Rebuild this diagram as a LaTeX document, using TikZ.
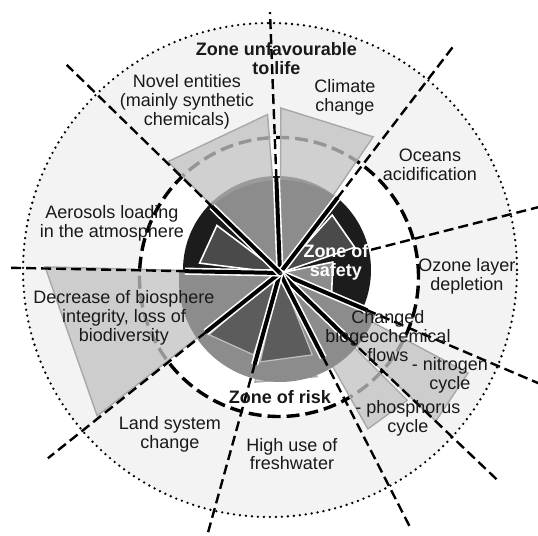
\documentclass[tikz,border=0pt]{standalone}
\usepackage{fontspec}
\setmainfont{Liberation Sans}
\usetikzlibrary{positioning}
\definecolor{outerbg}{HTML}{F3F3F3}
\definecolor{litegray}{HTML}{C2C2C2}
\definecolor{litedge}{HTML}{A8A8A8}
\definecolor{midgray}{HTML}{8C8C8C}
\definecolor{safecore}{HTML}{1C1C1C}
\definecolor{safegray}{HTML}{4A4A4A}
\definecolor{riskgray}{HTML}{5C5C5C}

\begin{document}
\begin{tikzpicture}[
  x=0.5pt, y=0.5pt,
  font=\fontsize{9}{9.4}\selectfont,
  lbl/.style={align=center, inner sep=0pt, text=black!90},
  zonelbl/.style={lbl, font=\fontsize{9}{9.4}\selectfont\bfseries},
  litewedge/.style={fill=litegray, fill opacity=0.77, draw=litedge, line width=0.7pt},
  safewedge/.style={fill=safegray, draw=white, line width=0.8pt},
  riskwedge/.style={fill=riskgray, draw=black!25, line width=0.6pt},
  sepline/.style={line width=2pt, black},
  raydash/.style={line width=1.2pt, dash pattern=on 5pt off 2.5pt}
]
\useasboundingbox (-280,-263) rectangle (258,273);
\clip (-280,-263) rectangle (258,273);

% zones
\fill[outerbg] (-10,3) circle (247);
\fill[white] (-1,-4) circle (139.5);
\draw[line width=1.7pt, dash pattern=on 6.5pt off 3pt] (-1,-4) circle (139.5);
\fill[safecore] (-3,3) circle (94);

% boundaries transgressed
\filldraw[litewedge] (0,0) -- (94.5:159) -- (135.2:158) -- cycle;
\filldraw[litewedge] (0,0) -- (55.6:165) -- (89.7:165) -- cycle;
\filldraw[litewedge] (0,0) -- (-28:213) -- (-43.6:215) -- cycle;
\filldraw[litewedge] (0,0) -- (-45:180) -- (-60.6:179) -- cycle;
\filldraw[litewedge] (0,0) -- (-102.9:112) -- (-70.4:110) -- cycle;
\filldraw[litewedge] (0,0) -- (178.5:235) -- (218:232) -- cycle;

% zone of risk part
\foreach \a/\b in {92.2/135.7, 52.6/92.2, -62.9/-23.1, -105.5/-62.9,
                   -141.4/-105.5, 178.9/218.6}
{
  \begin{scope}
    \clip (0,0) -- (\a:300) -- (\b:300) -- cycle;
    \fill[midgray] (0,-8) circle (101);
  \end{scope}
}
\filldraw[riskwedge] (0,0) -- (-102.5:91) -- (-68.5:88) -- cycle;
\filldraw[riskwedge] (0,0) -- (-139:94) -- (-108:86) -- cycle;

% inside the safe zone
\filldraw[safewedge] (0,0) -- (143:79) -- (173:81) -- cycle;
\filldraw[safewedge] (0,0) -- (19:79) -- (48:78) -- cycle;
\filldraw[safewedge, fill=midgray] (0,0) -- (11.7:54) -- (-20:55) -- cycle;

% sector borders
\foreach \a in {92.2, 52.6, -23.1, -44.2, -62.9, -105.5, -141.4, 178.9, 135.7}
{
  \draw[sepline, white, line width=3.6pt] (0,0) -- (\a:95);
  \draw[sepline] (0,0) -- (\a:95);
}
\foreach \a/\r in {92.2/261, 52.6/285, 14.3/320, -23.1/320, -43.6/300,
                   -62.9/288, -105.5/320, -141.4/297, 178.9/270, 135.7/298}
  \draw[raydash] (\a:94) -- (\a:\r);

\draw[line width=1.3pt, line cap=round, dash pattern=on 0pt off 3pt] (-10,3) circle (247);

% labels
\node[zonelbl] (zunf) at (-3.5,214.5) {Zone unfavourable\\to life};
\node[lbl] (novel) at (-93,171) {Novel entities\\(mainly synthetic\\chemicals)};
\node[lbl] (climate) at (65,176) {Climate\\change};
\node[lbl] (ocean) at (150,108) {Oceans\\acidification};
\node[lbl] (ozone) at (187,-3) {Ozone layer\\depletion};
\node[lbl] (bgc) at (108,-63) {Changed\\biogeochemical\\flows};
\node[lbl] (nitro) at (170,-102) {- nitrogen\\cycle};
\node[lbl] (phos) at (128,-145) {- phosphorus\\cycle};
\node[lbl] (fresh) at (12,-181) {High use of\\freshwater};
\node[lbl] (land) at (-110,-161) {Land system\\change};
\node[lbl] (bios) at (-156,-45) {Decrease of biosphere\\integrity, loss of\\biodiversity};
\node[lbl] (aero) at (-168,50) {Aerosols loading\\in the atmosphere};
\node[zonelbl, text=white] (zsafe) at (56,11) {Zone of\\safety};
\node[zonelbl] (zrisk) at (0,-124) {Zone of risk};
\end{tikzpicture}
\end{document}
